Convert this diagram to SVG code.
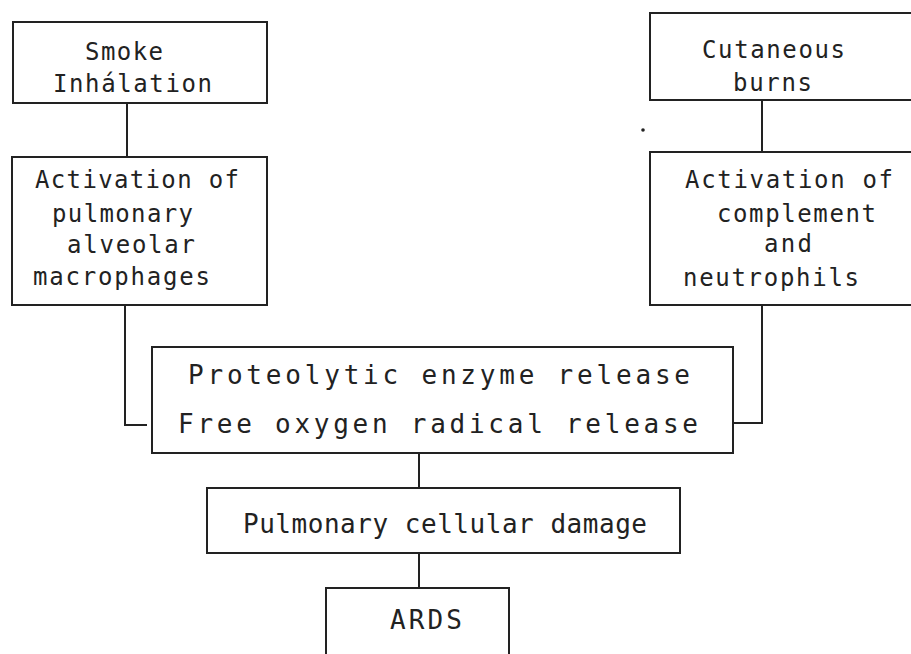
<svg xmlns="http://www.w3.org/2000/svg" width="911" height="654" viewBox="0 0 911 654">
<style>
.box{fill:none;stroke:#222;stroke-width:2}
.ln{fill:none;stroke:#222;stroke-width:2}
text{font-family:"DejaVu Sans Mono","Liberation Mono",monospace;font-size:24px;fill:#222}
.big{font-size:26px}
</style>
<rect width="911" height="654" fill="#fff"/>
<g id="connectors">
<path class="ln" d="M127 103V157"/>
<path class="ln" d="M762 100V152"/>
<path class="ln" d="M125 305V425H147"/>
<path class="ln" d="M762 305V423H733"/>
<path class="ln" d="M419 453V488"/>
<path class="ln" d="M419 553V588"/>
</g>
<g id="smoke">
<rect class="box" x="13" y="22" width="254" height="81"/>
<text x="85" y="60" textLength="78" lengthAdjust="spacing">Smoke</text>
<text x="53" y="92" textLength="159" lengthAdjust="spacing">Inhálation</text>
</g>
<g id="alveolar">
<rect class="box" x="12" y="157" width="255" height="148"/>
<text x="35" y="188" textLength="204" lengthAdjust="spacing">Activation of</text>
<text x="52" y="222" textLength="141" lengthAdjust="spacing">pulmonary</text>
<text x="67" y="253" textLength="128" lengthAdjust="spacing">alveolar</text>
<text x="33" y="285" textLength="177" lengthAdjust="spacing">macrophages</text>
</g>
<g id="burns">
<rect class="box" x="650" y="13" width="275" height="87"/>
<text x="702" y="58" textLength="143" lengthAdjust="spacing">Cutaneous</text>
<text x="733" y="91" textLength="79" lengthAdjust="spacing">burns</text>
</g>
<g id="complement">
<rect class="box" x="650" y="152" width="275" height="153"/>
<text x="685" y="188" textLength="208" lengthAdjust="spacing">Activation of</text>
<text x="717" y="222" textLength="159" lengthAdjust="spacing">complement</text>
<text x="764" y="252" textLength="48" lengthAdjust="spacing">and</text>
<text x="683" y="286" textLength="176" lengthAdjust="spacing">neutrophils</text>
</g>
<g id="release">
<rect class="box" x="152" y="347" width="581" height="106"/>
<text class="big" x="188" y="384" textLength="502" lengthAdjust="spacing">Proteolytic enzyme release</text>
<text class="big" x="178" y="433" textLength="520" lengthAdjust="spacing">Free oxygen radical release</text>
</g>
<g id="damage">
<rect class="box" x="207" y="488" width="473" height="65"/>
<text class="big" x="243" y="533" textLength="404" lengthAdjust="spacing">Pulmonary cellular damage</text>
</g>
<g id="ards">
<rect class="box" x="326" y="588" width="183" height="80"/>
<text class="big" x="390" y="629" textLength="72" lengthAdjust="spacing">ARDS</text>
</g>
<circle cx="643" cy="130" r="1.8" fill="#222"/>
</svg>
